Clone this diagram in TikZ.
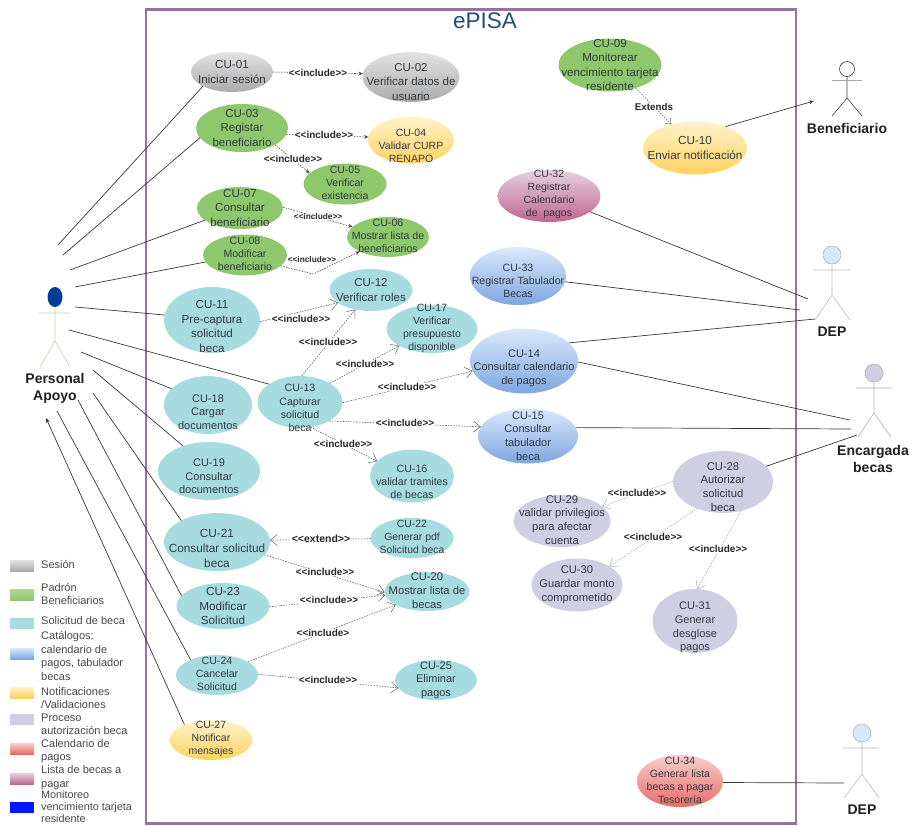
\documentclass[tikz,border=0pt]{standalone}
\usepackage{fontspec}
\setmainfont{Liberation Sans}
\usetikzlibrary{shapes.geometric,arrows.meta}
\definecolor{framec}{HTML}{9673A6}
\definecolor{txtc}{HTML}{303A40}
\definecolor{teal}{HTML}{A6DCDF}
\definecolor{leaf}{HTML}{8FC76C}
\definecolor{lila}{HTML}{D0CEE2}
\definecolor{azulA}{HTML}{DAE8FC}
\definecolor{azulB}{HTML}{7EA6E0}
\definecolor{amarA}{HTML}{FFF2CC}
\definecolor{amarB}{HTML}{FFD25F}
\definecolor{rojoA}{HTML}{F8CECC}
\definecolor{rojoB}{HTML}{EA6B66}
\definecolor{rosaA}{HTML}{E6D0DE}
\definecolor{rosaB}{HTML}{C0668F}
\definecolor{grisA}{HTML}{E2E2E2}
\definecolor{grisB}{HTML}{ABABAB}
\definecolor{titlec}{HTML}{1F4E79}
\newcommand{\incl}{<\kern0pt<include>\kern0pt>}
\tikzset{
  usecase/.style={ellipse,draw=none,inner sep=0pt,outer sep=0pt,text=txtc},
  gris/.style={top color=grisA,bottom color=grisB},
  verde/.style={fill=leaf},
  turq/.style={fill=teal},
  amar/.style={top color=amarA,bottom color=amarB},
  azul/.style={top color=azulA,bottom color=azulB},
  lilac/.style={fill=lila},
  rojo/.style={top color=rojoA,bottom color=rojoB},
  rosa/.style={top color=rosaA,bottom color=rosaB},
  assoc/.style={line width=0.7pt,color=black!78},
  assocarrow/.style={assoc,-{Stealth[length=5pt,width=4pt]}},
  incl/.style={line width=0.55pt,color=black!70,dash pattern=on 1.6pt off 1.1pt,-{Stealth[length=4.5pt,width=4pt]}},
  inclopen/.style={line width=0.55pt,color=black!62,dash pattern=on 1.6pt off 1.1pt,-{Straight Barb[length=7pt,width=11pt,line width=0.5pt]}},
  inclsoft/.style={line width=0.55pt,color=gray!65,dash pattern=on 1.6pt off 1.1pt,-{Straight Barb[length=7pt,width=11pt,line width=0.5pt,color=teal!60!gray]}},
  lab/.style={font=\bfseries\fontsize{10}{12}\selectfont,text=black!85,fill=white,inner sep=0.4pt},
  smalllab/.style={font=\bfseries\fontsize{8.3}{10}\selectfont,text=black!85,fill=white,inner sep=0.2pt},
  actorname/.style={font=\bfseries\fontsize{14}{17}\selectfont,align=center,text=black!88,inner sep=0pt},
  head/.style={ellipse,inner sep=0pt,outer sep=0pt},
  legendtxt/.style={anchor=west,align=left,inner sep=0pt,text=black!72,font=\fontsize{11}{13.5}\selectfont},
  swatch/.style={minimum width=24pt,minimum height=11pt,inner sep=0pt,outer sep=0pt,anchor=north west,draw=none},
}
\newcommand{\ucase}[9]{%
  \node[usecase,#6,minimum width=#4pt,minimum height=#5pt] (#1) at (#2,#3)
  {\pgfmathsetmacro{\ucls}{#7*1.24}\raisebox{\dimexpr#8pt-2.5pt\relax}[0pt][0pt]{\makebox[0pt]{\parbox[c]{170pt}{\centering\fontsize{#7}{\ucls}\selectfont #9}}}};}
\begin{document}
\begin{tikzpicture}[x=1pt,y=-1pt]
\useasboundingbox (0,0) rectangle (912,825);
% system frame
\node[draw=framec,line width=2.2pt,minimum width=650pt,minimum height=814pt,inner sep=0pt,outer sep=0pt,anchor=north west] (frame) at (146,9.5) {};
\node[font=\fontsize{22.5}{26}\selectfont,text=titlec,inner sep=0pt] (title) at (485,21) {ePISA};

% use cases
\ucase{cu01}{232}{72}{82}{40}{gris}{11.6}{0}{CU-01\\Iniciar sesión}
\ucase{cu02}{411}{77}{97}{50}{gris}{11.5}{-5}{CU-02\\Verificar datos de\\usuario}
\ucase{cu03}{242}{128}{92}{48}{verde}{11.5}{0}{CU-03\\Registar\\beneficiario}
\ucase{cu04}{411}{140}{86}{47}{amar}{10.5}{-5.5}{CU-04\\Validar CURP\\RENAPO}
\ucase{cu05}{345}{184}{83}{41}{verde}{10.5}{1}{CU-05\\Verificar\\existencia}
\ucase{cu07}{240}{208}{86}{42}{verde}{11.6}{0}{CU-07\\Consultar\\beneficiario}
\ucase{cu08}{245}{255}{84}{41}{verde}{10.6}{1}{CU-08\\Modificar\\beneficiario}
\ucase{cu06}{388}{237}{82}{40}{verde}{10.6}{1}{CU-06\\Mostrar lista de\\beneficiarios}
\ucase{cu09}{610}{65}{103}{53}{verde}{11.6}{0}{CU-09\\Monitorear\\vencimiento tarjeta\\residente}
\ucase{cu10}{695}{148}{104}{53}{amar}{11.7}{0}{CU-10\\Enviar notificación}
\ucase{cu32}{549}{196}{103}{52}{rosa}{10.5}{1.5}{CU-32\\Registrar\\Calendario\\de \ pagos}
\ucase{cu33}{518}{276}{96}{58}{azul}{10.6}{-5}{CU-33\\Registrar Tabulador\\Becas}
\ucase{cu12}{371}{290}{83}{42}{turq}{11.5}{0}{CU-12\\Verificar roles}
\ucase{cu17}{432}{329}{91}{48}{turq}{10.5}{1}{CU-17\\Verificar\\presupuesto\\disponible}
\ucase{cu14}{524}{361}{108}{65}{azul}{11}{-7}{CU-14\\Consultar calendario\\de pagos}
\ucase{cu15}{528}{436}{100}{55}{azul}{11}{0}{CU-15\\Consultar\\tabulador\\beca}
\ucase{cu11}{212}{320}{96}{66}{turq}{11.6}{-6.5}{CU-11\\Pre-captura\\solicitud\\beca}
\ucase{cu13}{300}{402}{85}{52}{turq}{10.6}{-6}{CU-13\\Capturar\\solicitud\\beca}
\ucase{cu16}{412}{476}{84}{53}{turq}{10.6}{-6}{CU-16\\validar tramites\\de becas}
\ucase{cu18}{208}{405}{88}{58}{turq}{11}{-7}{CU-18\\Cargar\\documentos}
\ucase{cu19}{209}{471}{102}{58}{turq}{11}{-5.5}{CU-19\\Consultar\\documentos}
\ucase{cu21}{217}{542}{106}{58}{turq}{11.8}{-6.5}{CU-21\\Consultar solicitud\\beca}
\ucase{cu22}{412}{538}{83}{40}{turq}{10.4}{1}{CU-22\\Generar pdf\\Solicitud beca}
\ucase{cu20}{427}{591.5}{85}{39}{turq}{11.2}{1}{CU-20\\Mostrar lista de\\becas}
\ucase{cu23}{223}{606}{93}{46}{turq}{11.7}{0}{CU-23\\Modificar\\Solicitud}
\ucase{cu24}{217}{675}{82}{40}{turq}{10.6}{1.5}{CU-24\\Cancelar\\Solicitud}
\ucase{cu25}{436}{680}{82}{40}{turq}{11}{0}{CU-25\\Eliminar\\pagos}
\ucase{cu27}{211}{740}{83}{40}{amar}{10.5}{1}{CU-27\\Notificar\\mensajes}
\ucase{cu28}{723}{482}{100}{62}{lilac}{11.2}{-5}{CU-28\\Autorizar\\solicitud\\beca}
\ucase{cu29}{562}{521}{97}{52}{lilac}{11.2}{1}{CU-29\\validar privilegios\\para afectar\\cuenta}
\ucase{cu30}{577}{585}{91}{53}{lilac}{11.2}{0}{CU-30\\Guardar monto\\comprometido}
\ucase{cu31}{695}{621}{85}{64}{lilac}{11}{-6.5}{CU-31\\Generar\\desglose\\pagos}
\ucase{cu34}{680}{781}{86}{52}{rojo}{10.5}{1}{CU-34\\Generar lista\\becas a pagar\\Tesorería}

% actor: Personal Apoyo
\node[head,fill=blue!60!cyan!60!black,minimum width=15pt,minimum height=20pt] (paH) at (55,297) {};
\coordinate (paHip) at (55,341); \coordinate (paAL) at (39,313); \coordinate (paAR) at (71,313);
\coordinate (paFL) at (40,367); \coordinate (paFR) at (70,367);
\draw[line width=0.6pt,color=yellow!25!gray!60] (paH.south) -- (paHip) -- (paFL) (paHip) -- (paFR) (paAL) -- (paAR);
\node[actorname] (paN) at (55,388) {Personal\\Apoyo};
% actor: Beneficiario
\node[head,draw=black!80,line width=0.6pt,fill=white,minimum width=15pt,minimum height=15pt] (beH) at (847,69) {};
\coordinate (beHip) at (847,98); \coordinate (beAL) at (832,80); \coordinate (beAR) at (862,80);
\coordinate (beFL) at (832,116); \coordinate (beFR) at (862,116);
\draw[line width=0.6pt,color=black!75] (beH.south) -- (beHip) -- (beFL) (beHip) -- (beFR);
\draw[line width=0.6pt,color=black!35] (beAL) -- (beAR);
\node[actorname] (beN) at (847,128) {Beneficiario};
% actor: DEP
\node[head,draw=gray!70,line width=0.5pt,fill=azulA,minimum width=18pt,minimum height=18pt] (deH) at (832,255) {};
\coordinate (deHip) at (832,295); \coordinate (deAL) at (814,270); \coordinate (deAR) at (850,270);
\coordinate (deFL) at (815,320); \coordinate (deFR) at (850,320);
\draw[line width=0.6pt,color=gray!55] (deH.south) -- (deHip) -- (deFL) (deHip) -- (deFR) (deAL) -- (deAR);
\node[actorname] (deN) at (832,332) {DEP};
% actor: Encargada becas
\node[head,draw=gray!70,line width=0.5pt,fill=lila,minimum width=18pt,minimum height=18pt] (enH) at (874,373) {};
\coordinate (enHip) at (874,413); \coordinate (enAL) at (856,388); \coordinate (enAR) at (892,388);
\coordinate (enFL) at (858,437); \coordinate (enFR) at (891,437);
\draw[line width=0.6pt,color=gray!60] (enH.south) -- (enHip) -- (enFL) (enHip) -- (enFR) (enAL) -- (enAR);
\node[actorname] (enN) at (873,458.5) {Encargada\\becas};
% actor: DEP (lower)
\node[head,draw=gray!70,line width=0.5pt,fill=azulA,minimum width=18pt,minimum height=18pt] (dbH) at (862,733) {};
\coordinate (dbHip) at (862,774); \coordinate (dbAL) at (843,748); \coordinate (dbAR) at (879,748);
\coordinate (dbFL) at (844,798); \coordinate (dbFR) at (879,798);
\draw[line width=0.6pt,color=gray!55] (dbH.south) -- (dbHip) -- (dbFL) (dbHip) -- (dbFR) (dbAL) -- (dbAR);
\node[actorname] (dbN) at (862,810) {DEP};

% associations, Personal Apoyo
\coordinate (pa01) at (58,245);  \draw[assoc] (pa01) -- (cu01.206);
\coordinate (pa03) at (63,255);  \draw[assoc] (pa03) -- (cu03.193);
\coordinate (pa07) at (70,270);  \draw[assoc] (pa07) -- (cu07.199);
\coordinate (pa08) at (75,287);  \draw[assoc] (pa08) -- (cu08.190);
\coordinate (pa11) at (75,307);  \draw[assoc] (pa11) -- (cu11.174);
\coordinate (pa13) at (69,330);  \draw[assoc] (pa13) -- (cu13.150);
\coordinate (pa18) at (81,352);  \draw[assoc] (pa18) -- (cu18.156);
\coordinate (pa19) at (93,370);  \draw[assoc] (pa19) -- (cu19.136);
\coordinate (pa21) at (93,393);  \draw[assoc] (pa21) -- (cu21.149);
\coordinate (pa23) at (78,400);  \draw[assoc] (pa23) -- (cu23.166);
\coordinate (pa24) at (57,411);  \draw[assoc] (pa24) -- (cu24.150);
\coordinate (pa27) at (46,418);  \draw[assocarrow] (cu27.150) -- (pa27);
% associations, right side
\coordinate (be10) at (814,101); \draw[assocarrow] (cu10.35) -- (be10);
\coordinate (de32) at (808,299); \draw[assoc] (cu32.339) -- (de32);
\coordinate (de33) at (800,310); \draw[assoc] (cu33.353) -- (de33);
\coordinate (de14) at (815,319); \draw[assoc] (cu14.22) -- (de14);
\coordinate (en14) at (850,420); \draw[assoc] (cu14.359) -- (en14);
\coordinate (en15) at (851,429); \draw[assoc] (cu15.10) -- (en15);
\coordinate (en28) at (857,435); \draw[assoc] (cu28.20) -- (en28);
\coordinate (db34) at (844,783); \draw[assoc] (cu34.358) -- (db34);

% include / extend
\draw[incl] (cu01.0) -- (cu02.176);
\draw[incl] (cu03.352) -- (cu04.176);
\draw[incl] (cu03.333) -- (cu05.163);
\draw[incl] (cu07.1) -- (cu06.164);
\coordinate (bend08) at (313,274);
\draw[incl] (cu08.343) -- (bend08) -- (cu06.207);
\draw[inclopen,-{Straight Barb[length=5pt,width=8pt,line width=0.5pt]}] (cu09.318) -- (cu10.135);
\draw[inclopen] (cu11.358) -- (cu12.201);
\draw[inclopen] (cu13.86) -- (cu12.231);
\draw[inclopen] (cu13.32) -- (cu17.207);
\draw[inclopen] (cu13.359) -- (cu14.191);
\draw[inclopen] (cu13.327) -- (cu15.169);
\draw[inclopen] (cu13.293) -- (cu16.157);
\draw[inclopen] (cu22.181) -- (cu21.2);
\draw[inclopen] (cu21.345) -- (cu20.181);
\draw[inclopen] (cu23.359) -- (cu20.185);
\draw[inclopen] (cu24.23) -- (cu20.203);
\draw[inclopen] (cu24.1) -- (cu25.192);
\draw[inclsoft] (cu28.179) -- (cu29.20);
\draw[inclsoft] (cu28.226) -- (cu30.30);
\draw[inclsoft] (cu28.302) -- (cu31.86);

% connector labels
\node[lab] (l0102) at (318,73) {\incl};
\node[lab] (l0304) at (324,135) {\incl};
\node[lab] (l0305) at (293,159) {\incl};
\node[smalllab] (l0706) at (318,217) {\incl};
\node[smalllab] (l0806) at (312,260) {\incl};
\node[lab,font=\bfseries\fontsize{9.8}{12}\selectfont] (l0910) at (654,107) {Extends};
\node[lab] (l1112) at (301,319) {\incl};
\node[lab] (l1312) at (328,342) {\incl};
\node[lab] (l1317) at (365,364) {\incl};
\node[lab] (l1314) at (407,387) {\incl};
\node[lab] (l1315) at (405,423) {\incl};
\node[lab] (l1316) at (343,444) {\incl};
\node[lab,font=\bfseries\fontsize{10.5}{12}\selectfont] (l2221) at (321,539) {<\kern0pt<extend>\kern0pt>};
\node[lab] (l2120) at (325,572) {\incl};
\node[lab] (l2320) at (329,600) {\incl};
\node[lab] (l2420) at (323,633) {<\kern0pt<include>};
\node[lab] (l2425) at (328,680) {\incl};
\node[lab] (l2829) at (637,493) {\incl};
\node[lab] (l2830) at (653,537) {\incl};
\node[lab] (l2831) at (718,549) {\incl};

% legend
\node[swatch,gris] (s1) at (10,560) {};
\node[legendtxt] (t1) at (41,564.5) {Sesión};
\node[swatch,top color=leaf!70,bottom color=leaf] (s2) at (10,589) {};
\node[legendtxt] (t2) at (41,594) {Padrón\\Beneficiarios};
\node[swatch,turq] (s3) at (10,618) {};
\node[legendtxt] (t3) at (41,621) {Solicitud de beca};
\node[swatch,azul] (s4) at (10,648) {};
\node[legendtxt] (t4) at (41,656) {Catálogos:\\calendario de\\pagos, tabulador\\becas};
\node[swatch,amar] (s5) at (10,687) {};
\node[legendtxt] (t5) at (41,698) {Notificaciones\\/Validaciones};
\node[swatch,lilac] (s6) at (10,714) {};
\node[legendtxt] (t6) at (41,724.5) {Proceso\\autorización beca};
\node[swatch,rojo] (s7) at (10,743) {};
\node[legendtxt] (t7) at (41,751) {Calendario de\\pagos};
\node[swatch,rosa] (s8) at (10,773) {};
\node[legendtxt] (t8) at (41,777.5) {Lista de becas a\\pagar};
\node[swatch,fill=blue!90!cyan] (s9) at (10,802) {};
\node[legendtxt,font=\fontsize{10.8}{11.8}\selectfont] (t9) at (41,806.5) {Monitoreo\\vencimiento tarjeta\\residente};
\end{tikzpicture}
\end{document}
